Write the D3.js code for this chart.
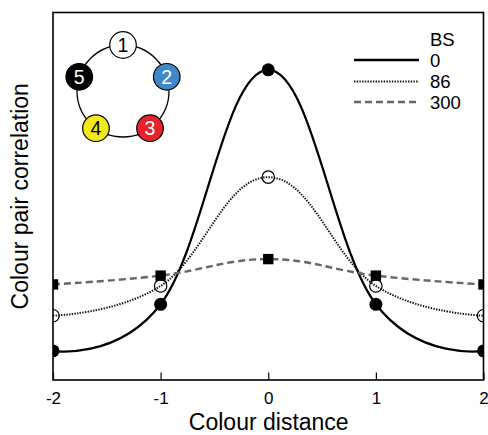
<!DOCTYPE html>
<html><head><meta charset="utf-8">
<script src="https://cdn.jsdelivr.net/npm/d3@7"></script>
<style>html,body{margin:0;padding:0;background:#fff;}svg{display:block;font-family:"Liberation Sans",Arial,sans-serif;}</style>
</head><body>
<svg id="chart" width="488" height="435"></svg>
<script>
// ---- data ----
const distances = [-2, -1, 0, 1, 2];
const xTicks = [-2, -1, 0, 1, 2];
const seriesNames = ["0", "86", "300"];
const bs0 = [0.079, 0.206, 0.844, 0.206, 0.079];
const bs86 = [0.175, 0.256, 0.552, 0.256, 0.175];
const bs300 = [0.260, 0.284, 0.329, 0.284, 0.260];
const legendTitle = "BS";
const xLabel = "Colour distance";
const yLabel = "Colour pair correlation";
const insetLabels = ["1", "2", "3", "4", "5"];
const insetFills = ["#ffffff", "#3f88c8", "#e8222b", "#f3e81c", "#000000"];
const insetText = ["#000000", "#ffffff", "#ffffff", "#000000", "#ffffff"];

// ---- layout ----
const svg = d3.select("#chart");
const L = 53, R = 483.5, T = 12.5, B = 380;
const x = d3.scaleLinear().domain([-2, 2]).range([L, R]);
const y = d3.scaleLinear().domain([0, 1]).range([B, T]);

svg.append("defs").append("clipPath").attr("id", "clip")
  .append("rect").attr("x", L).attr("y", T).attr("width", R - L).attr("height", B - T);

const styles = [
  {data: bs0, stroke: "#000", width: 2.3, dash: null, marker: "filled"},
  {data: bs86, stroke: "#111", width: 2, dash: "1.4,1.3", marker: "open"},
  {data: bs300, stroke: "#666", width: 2.4, dash: "7,4", marker: "square"}
];

const plot = svg.append("g").attr("clip-path", "url(#clip)");
const line = d3.line().x((d, i) => x(distances[i])).y(d => y(d)).curve(d3.curveCardinal.tension(-0.2));

styles.forEach(s => {
  plot.append("path").attr("d", line(s.data)).attr("fill", "none")
    .attr("stroke", s.stroke).attr("stroke-width", s.width)
    .attr("stroke-dasharray", s.dash);
});
styles.forEach(s => {
  s.data.forEach((v, i) => {
    const cx = x(distances[i]), cy = y(v);
    if (s.marker === "filled") {
      plot.append("circle").attr("cx", cx).attr("cy", cy).attr("r", 6.5).attr("fill", "#000");
    } else if (s.marker === "open") {
      plot.append("circle").attr("cx", cx).attr("cy", cy).attr("r", 6.2).attr("fill", "none")
        .attr("stroke", "#000").attr("stroke-width", 1.2);
    } else {
      plot.append("rect").attr("x", cx - 5.2).attr("y", cy - 5.2).attr("width", 10.4).attr("height", 10.4).attr("fill", "#000");
    }
  });
});

// frame
svg.append("rect").attr("x", L).attr("y", T).attr("width", R - L).attr("height", B - T)
  .attr("fill", "none").attr("stroke", "#000").attr("stroke-width", 1.6);

// x axis
const xAxis = d3.axisBottom(x).tickValues(xTicks).tickSize(-7.5).tickPadding(12)
  .tickFormat(d3.format("d"));
const gx = svg.append("g").attr("transform", `translate(0,${B})`).call(xAxis);
gx.select(".domain").remove();
gx.selectAll(".tick line").attr("stroke", "#000").attr("stroke-width", 1.2);
gx.selectAll(".tick text").attr("font-size", 17).attr("fill", "#000")
  .attr("font-family", "Liberation Sans, Arial, sans-serif").text(d => d < 0 ? "-" + Math.abs(d) : d);

svg.append("text").attr("x", (L + R) / 2 + 0.5).attr("y", 429.5).attr("text-anchor", "middle")
  .attr("font-size", 23).attr("fill", "#000").text(xLabel);
svg.append("text").attr("transform", `translate(28,${(T + B) / 2}) rotate(-90)`)
  .attr("text-anchor", "middle").attr("font-size", 23).attr("fill", "#000").text(yLabel);

// legend
const lg = svg.append("g");
lg.append("text").attr("x", 430).attr("y", 45.5).attr("font-size", 18.5).text(legendTitle);
const legYs = [60, 81.5, 102];
styles.forEach((s, i) => {
  lg.append("line").attr("x1", 354).attr("x2", 419).attr("y1", legYs[i]).attr("y2", legYs[i])
    .attr("stroke", s.stroke).attr("stroke-width", s.width).attr("stroke-dasharray", s.dash);
  lg.append("text").attr("x", 430).attr("y", legYs[i] + 6.5).attr("font-size", 18.5).text(seriesNames[i]);
});

// inset diagram
const ic = {x: 123, y: 91, r: 46};
const ins = svg.append("g");
ins.append("circle").attr("cx", ic.x).attr("cy", ic.y).attr("r", ic.r)
  .attr("fill", "none").attr("stroke", "#000").attr("stroke-width", 1.3);
insetLabels.forEach((lab, i) => {
  const a = (-90 + 72 * i) * Math.PI / 180;
  const nx = ic.x + ic.r * Math.cos(a), ny = ic.y + ic.r * Math.sin(a);
  ins.append("circle").attr("cx", nx).attr("cy", ny).attr("r", 13.3)
    .attr("fill", insetFills[i]).attr("stroke", "#000").attr("stroke-width", 1.2);
  ins.append("text").attr("x", nx).attr("y", ny + 7).attr("text-anchor", "middle")
    .attr("font-size", 19.5).attr("fill", insetText[i]).text(lab);
});
</script>
</body></html>
